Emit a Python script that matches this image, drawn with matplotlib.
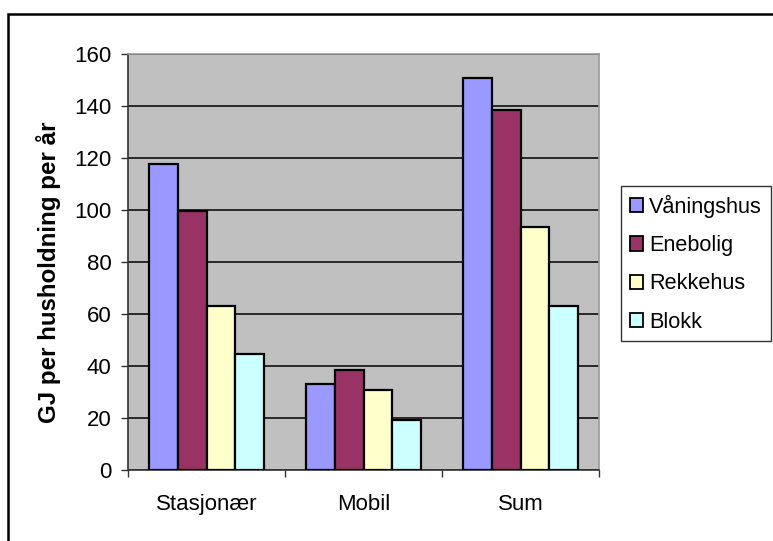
import matplotlib
matplotlib.use("Agg")
import matplotlib.pyplot as plt
import matplotlib.patches as mpatches
import numpy as np

plt.rcParams['font.family'] = ['Liberation Sans', 'DejaVu Sans']

categories = ["Stasjonær", "Mobil", "Sum"]
series_names = ["Våningshus", "Enebolig", "Rekkehus", "Blokk"]
vaaningshus = [117.6, 33.0, 150.6]
enebolig = [99.8, 38.3, 138.5]
rekkehus = [63.0, 30.6, 93.5]
blokk = [44.6, 19.1, 63.0]
yticks = [0, 20, 40, 60, 80, 100, 120, 140, 160]
ylabel = "GJ per husholdning per år"

values = [vaaningshus, enebolig, rekkehus, blokk]
colors = ["#9999FF", "#993366", "#FFFFCC", "#CCFFFF"]

W, H = 773, 541
FS = 16
fig = plt.figure(figsize=(W / 100, H / 100), dpi=100)
ax = fig.add_axes([128 / W, 1 - 470 / H, (599 - 128) / W, (470 - 54) / H])
ax.set_facecolor("#C0C0C0")

n = len(series_names)
bw = 1 / (n + 1.5)
x = np.arange(len(categories))
handles = []
for i, (name, vals, c) in enumerate(zip(series_names, values, colors)):
    offs = (i - (n - 1) / 2) * bw
    b = ax.bar(x + offs, vals, width=bw, color=c, edgecolor="black",
               linewidth=1.6, label=name, zorder=3)
    handles.append(b)

ax.set_xlim(-0.5, len(categories) - 0.5)
ax.set_ylim(0, 160)
ax.set_yticks(yticks)
ax.set_yticklabels([str(t) for t in yticks], fontsize=FS)
ax.yaxis.grid(True, color="black", linewidth=1.1, zorder=1)
ax.set_axisbelow(True)

ax.set_xticks(np.arange(len(categories) + 1) - 0.5)
ax.set_xticklabels([])
ax.set_xticks(x, minor=True)
ax.set_xticklabels(categories, minor=True, fontsize=FS)
ax.tick_params(axis="x", which="minor", length=0, pad=17)
ax.tick_params(axis="x", which="major", length=5, width=1, color="#333333")
ax.tick_params(axis="y", length=5, width=1, color="#333333", pad=7)

for s in ["top", "right"]:
    ax.spines[s].set_color("#999999")
    ax.spines[s].set_linewidth(1.2)
for s in ["left", "bottom"]:
    ax.spines[s].set_color("#333333")
    ax.spines[s].set_linewidth(1.2)

fig.text(49 / W, 1 - 272 / H, ylabel, rotation=90, ha="center", va="center",
         fontsize=17.4, fontweight="bold")

leg = fig.legend(handles=handles, labels=series_names, loc="upper left",
                 bbox_to_anchor=(621 / W, 1 - 186 / H), fontsize=15.6,
                 frameon=True, fancybox=False, shadow=False,
                 handlelength=0.62, handleheight=0.65, handletextpad=0.28,
                 labelspacing=0.8, borderpad=0.4, borderaxespad=0)
leg.get_frame().set_edgecolor("black")
leg.get_frame().set_linewidth(1.0)
leg.get_frame().set_facecolor("white")
for p in leg.get_patches():
    p.set_linewidth(1.3)

border = mpatches.Rectangle((8 / W, -0.2), 2, 1.2 - 14 / H,
                            transform=fig.transFigure, fill=False,
                            edgecolor="black", linewidth=1.8, clip_on=False)
fig.patches.append(border)

fig.savefig("out.png", dpi=100)
